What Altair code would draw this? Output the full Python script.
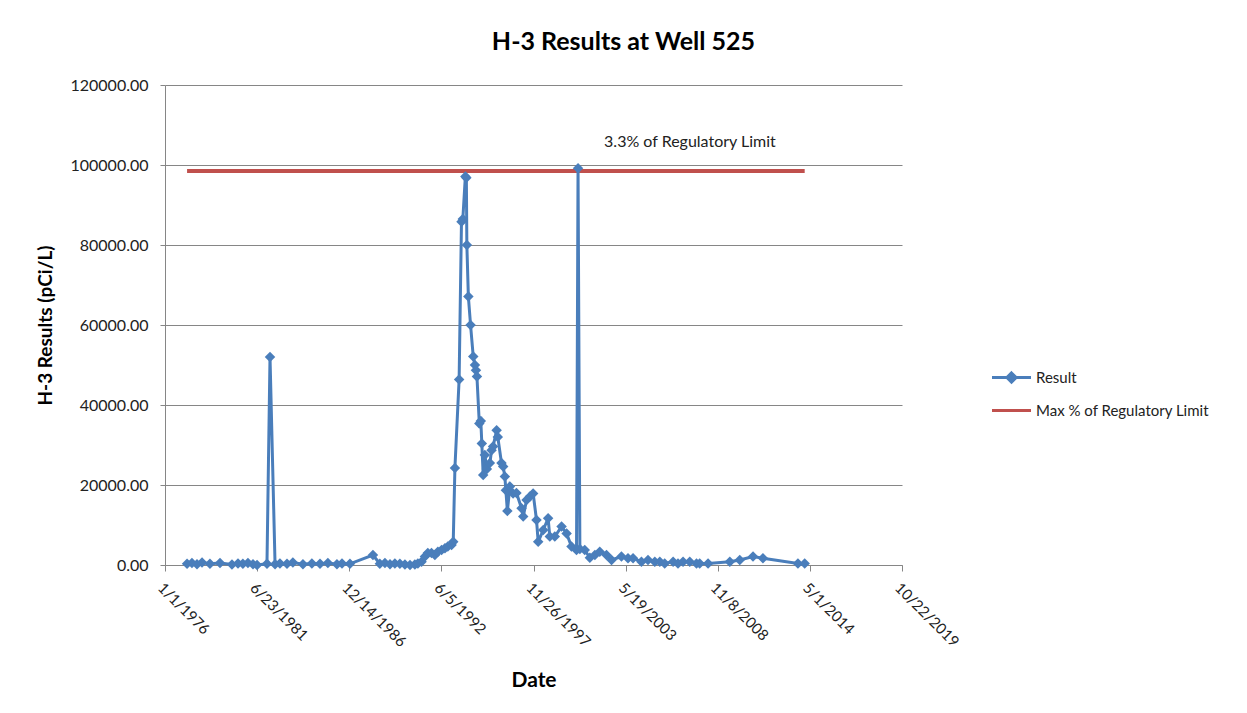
import altair as alt
import pandas as pd

# ---- data ----
RESULT_YEAR = [
    1977.31, 1977.60, 1977.90, 1978.20, 1978.67, 1979.27, 1979.98, 1980.34, 1980.63, 1980.93,
    1981.23, 1981.47, 1982.06, 1982.24, 1982.54, 1982.83, 1983.25, 1983.60, 1984.20, 1984.73,
    1985.21, 1985.68, 1986.22, 1986.52, 1986.99, 1988.36, 1988.77, 1989.07, 1989.37, 1989.66,
    1989.96, 1990.26, 1990.56, 1990.85, 1991.03, 1991.25, 1991.45, 1991.62, 1991.84, 1992.04,
    1992.22, 1992.44, 1992.64, 1992.81, 1993.03, 1993.13, 1993.23, 1993.48, 1993.62, 1993.70,
    1993.85, 1993.91, 1993.94, 1994.03, 1994.16, 1994.32, 1994.42, 1994.48, 1994.54, 1994.68,
    1994.77, 1994.83, 1994.91, 1995.01, 1995.13, 1995.31, 1995.41, 1995.50, 1995.71, 1995.78,
    1996.00, 1996.10, 1996.20, 1996.26, 1996.35, 1996.50, 1996.69, 1996.89, 1997.19, 1997.29,
    1997.49, 1997.69, 1997.88, 1998.08, 1998.18, 1998.48, 1998.77, 1998.87, 1999.17, 1999.57,
    1999.87, 2000.16, 2000.46, 2000.55, 2000.66, 2000.95, 2001.25, 2001.55, 2001.84, 2002.24,
    2002.54, 2003.13, 2003.52, 2003.82, 2004.32, 2004.71, 2005.11, 2005.41, 2005.70, 2006.20,
    2006.49, 2006.79, 2007.19, 2007.59, 2007.78, 2008.28, 2009.57, 2010.16, 2010.95, 2011.54,
    2013.62, 2014.02,
]
RESULT_VALUE = [
    300, 500, 200, 600, 300, 500, 100, 400, 300, 500,
    200, 0, 300, 52000, 200, 400, 300, 600, 200, 400,
    300, 500, 200, 400, 300, 2500, 300, 500, 200, 400,
    300, 100, 0, 100, 400, 800, 2100, 3000, 3000, 2500,
    3300, 3750, 4200, 4600, 5000, 5800, 24250, 46400, 85800, 86500,
    97100, 96800, 80000, 67100, 60000, 52100, 50000, 48700, 47100, 35400,
    36000, 30400, 22500, 27500, 24000, 25500, 28700, 29600, 33700, 32000,
    25500, 24600, 22100, 18700, 13500, 19600, 17900, 18000, 14200, 12100,
    16250, 17100, 17900, 11250, 5800, 8750, 11700, 7100, 7100, 9600,
    7900, 4600, 3750, 99200, 4000, 3750, 1800, 2500, 3300, 2500,
    1250, 2100, 1700, 1700, 800, 1250, 800, 800, 400, 800,
    400, 800, 800, 400, 400, 400, 800, 1250, 2100, 1700,
    400, 400,
]
LIMIT_VALUE = 98500
SERIES = ["Result", "Max % of Regulatory Limit"]
COLORS = ["#4A7EBB", "#C0504D"]
X_TICKS = ["1976-01-01", "1981-06-23", "1986-12-14", "1992-06-05", "1997-11-26",
           "2003-05-19", "2008-11-08", "2014-05-01", "2019-10-22"]
Y_TICKS = [0, 20000, 40000, 60000, 80000, 100000, 120000]
NOTE_TEXT = ["3.3% of Regulatory Limit"]
NOTE_YEAR = [2007.2]
NOTE_VALUE = [105800]

FONT = "Lato"
BLUE, RED = COLORS


def year_to_date(y):
    base = pd.Timestamp(int(y), 1, 1)
    return base + pd.Timedelta(days=(y - int(y)) * 365.25)


def to_dt(s):
    t = pd.Timestamp(s)
    return alt.DateTime(year=t.year, month=t.month, date=t.day)


res = pd.DataFrame({"date": [year_to_date(y) for y in RESULT_YEAR], "value": RESULT_VALUE})
lim = pd.DataFrame({"date": [res["date"].iloc[0], res["date"].iloc[-1]],
                    "value": [LIMIT_VALUE, LIMIT_VALUE]})
leg = pd.DataFrame({"date": [res["date"].iloc[0]] * 2, "value": [0, 0], "series": SERIES})
note = pd.DataFrame({"date": [year_to_date(y) for y in NOTE_YEAR], "value": NOTE_VALUE,
                     "text": NOTE_TEXT})

x_enc = alt.X(
    "date:T",
    scale=alt.Scale(domain=[to_dt(X_TICKS[0]), to_dt(X_TICKS[-1])], nice=False),
    axis=alt.Axis(values=[to_dt(d) for d in X_TICKS], format="%-m/%-d/%Y", labelAngle=45,
                  labelAlign="left", labelBaseline="top", grid=False, title="Date",
                  titleFontSize=21, titleFontWeight="bold", titleColor="#000",
                  titlePadding=20, tickSize=6, labelPadding=9, labelFontSize=15),
)
y_enc = alt.Y(
    "value:Q",
    scale=alt.Scale(domain=[0, 120000], nice=False),
    axis=alt.Axis(values=Y_TICKS, format=".2f", grid=True, title="H-3 Results (pCi/L)",
                  titleFontSize=19, titleFontWeight="bold", titleColor="#000",
                  titlePadding=14, tickSize=5, labelPadding=12, labelFontSize=16),
)

limit_line = alt.Chart(lim).mark_line(color=RED, strokeWidth=4).encode(x=x_enc, y=y_enc)
result_line = alt.Chart(res).mark_line(color=BLUE, strokeWidth=3).encode(x=x_enc, y=y_enc)
result_pts = alt.Chart(res).mark_point(shape="diamond", filled=True, color=BLUE, size=110,
                                       opacity=1).encode(x=x_enc, y=y_enc)
note_txt = alt.Chart(note).mark_text(font=FONT, fontSize=16, color="#222").encode(
    x=x_enc, y=y_enc, text="text:N")

LEGEND = dict(title=None, orient="none", legendX=832, legendY=278, symbolOpacity=1,
              symbolSize=676, symbolStrokeWidth=3, symbolFillColor=BLUE, labelFont=FONT,
              labelFontSize=15, labelColor="#222", labelOffset=10, rowPadding=7, padding=0,
              labelLimit=0)

legend_layer = alt.Chart(leg).mark_point(filled=False, fill=BLUE, opacity=0).encode(
    x=x_enc, y=y_enc,
    color=alt.Color("series:N", scale=alt.Scale(domain=SERIES, range=COLORS),
                    legend=alt.Legend(**LEGEND)),
    shape=alt.Shape("series:N", scale=alt.Scale(
        domain=SERIES,
        range=["M-1.5,0L1.5,0M0,-0.35L0.35,0L0,0.35L-0.35,0Z", "M-1.5,0L1.5,0"]),
        legend=alt.Legend(**LEGEND)),
)

chart = alt.layer(limit_line, result_line, result_pts, note_txt, legend_layer).properties(
    width=737, height=480,
    title=alt.TitleParams("H-3 Results at Well 525", font=FONT, fontSize=25, fontWeight="bold",
                          color="#000", anchor="middle", frame="bounds", offset=22),
    padding={"left": 28, "top": 22, "right": 10, "bottom": 10},
).configure_view(stroke=None).configure_axis(
    domainColor="#868686", gridColor="#868686", tickColor="#868686",
    labelFont=FONT, labelFontSize=14, labelColor="#222", titleFont=FONT,
)

chart.save("out.html", embed_options={"renderer": "svg", "actions": False})
